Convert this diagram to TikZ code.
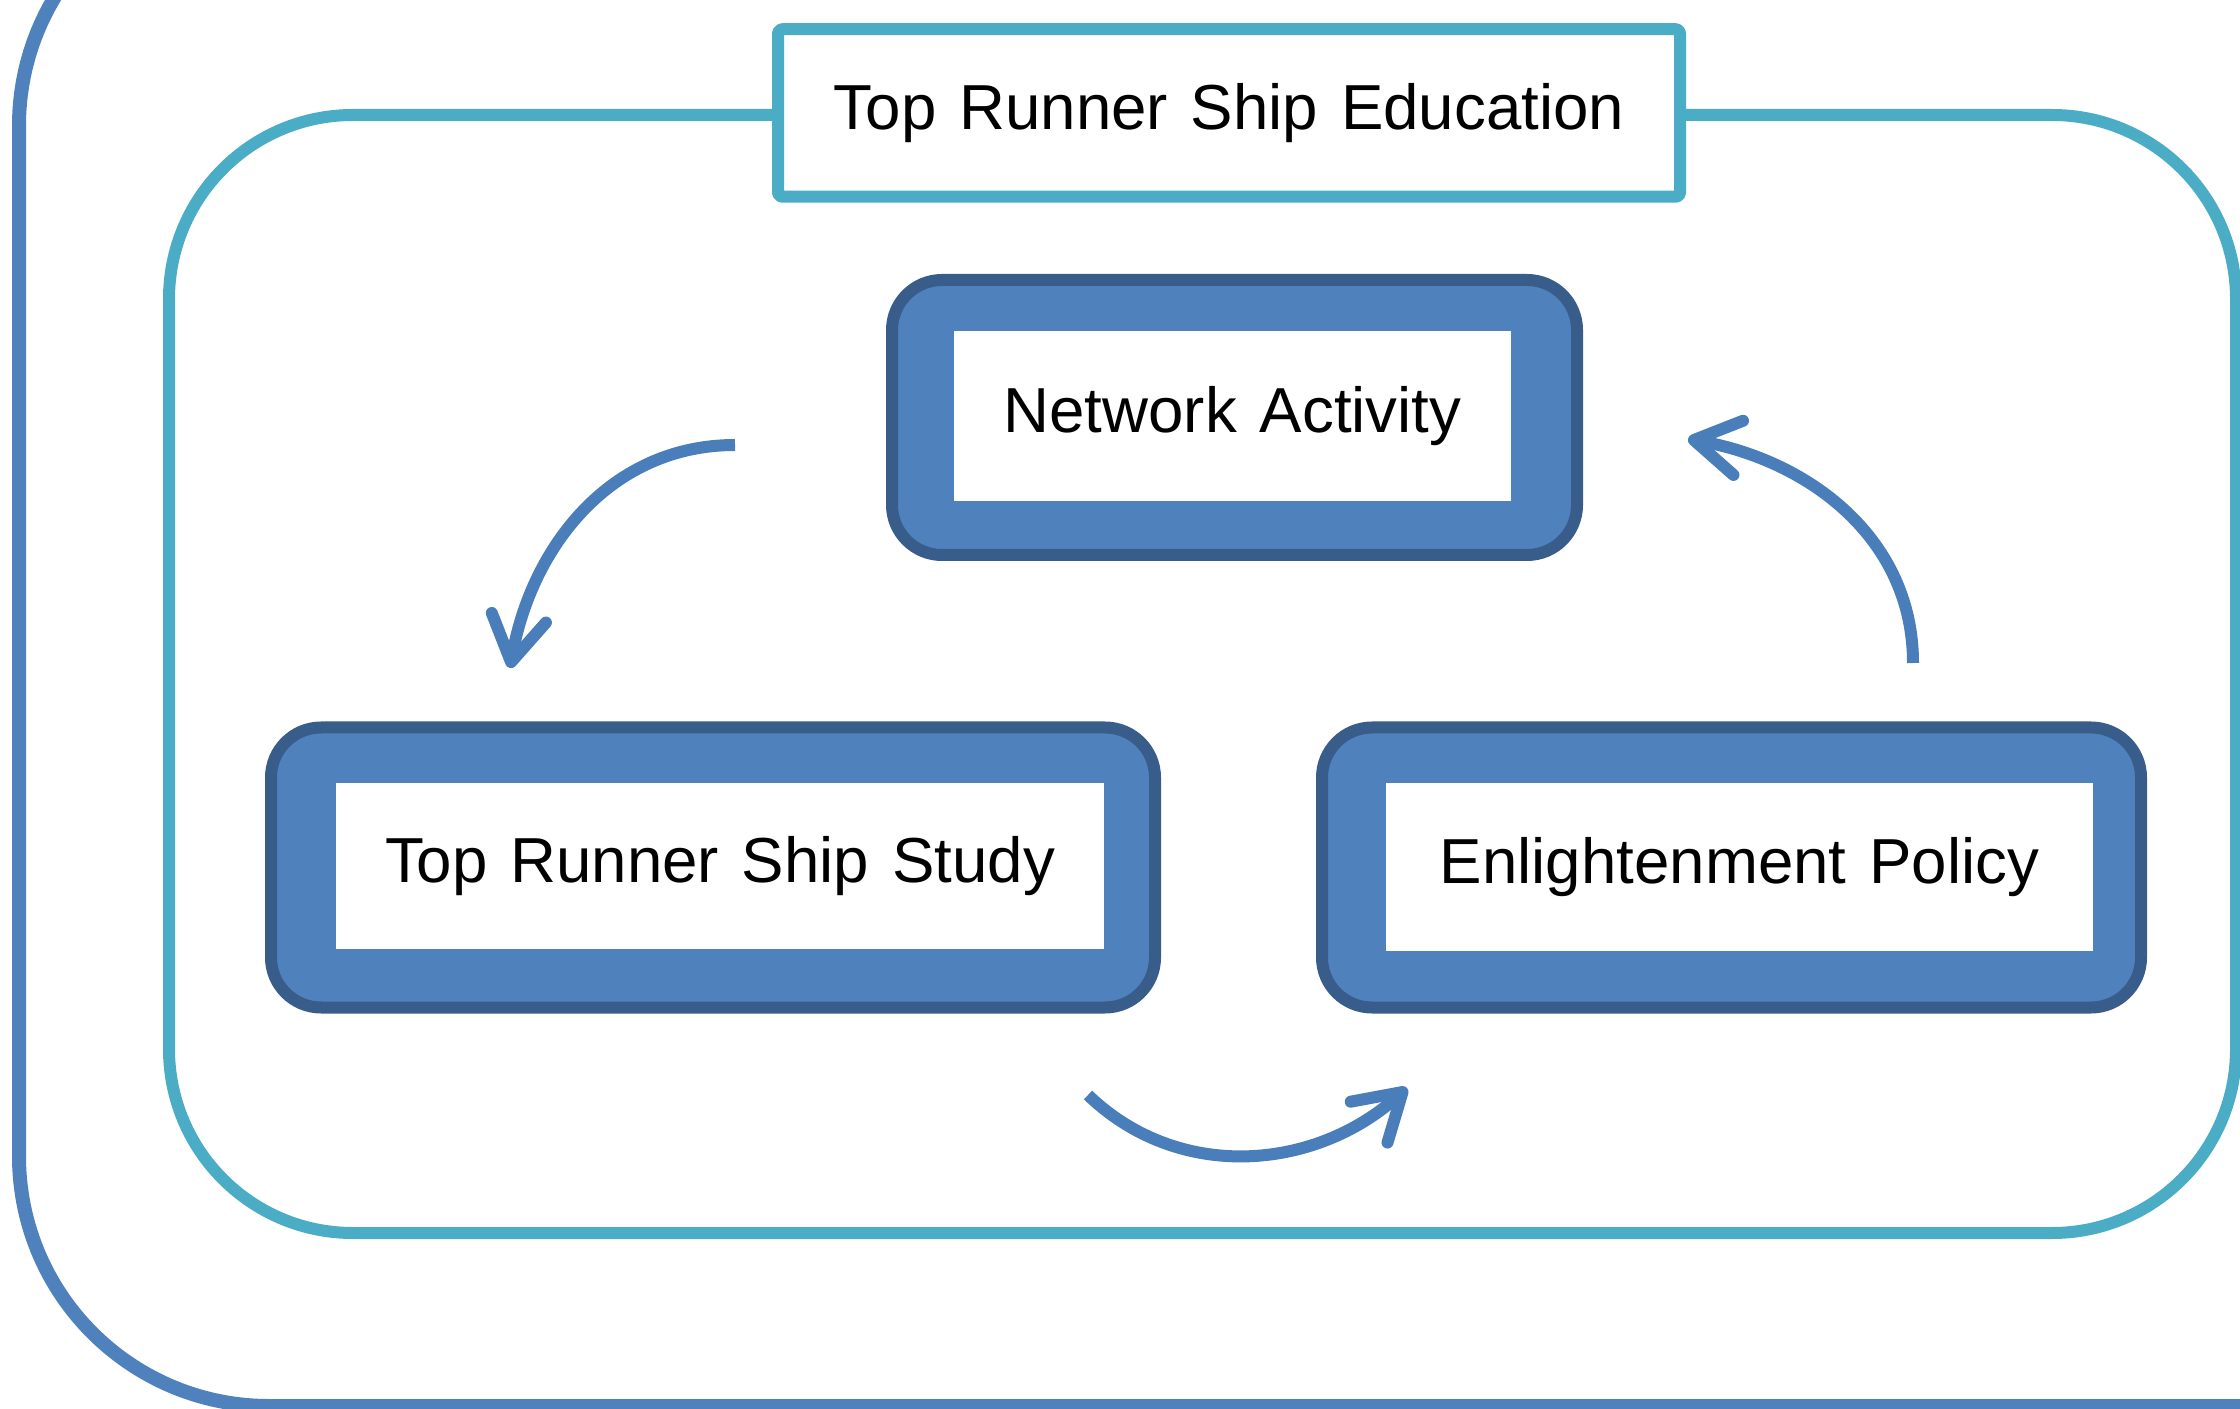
\documentclass[tikz,border=0pt]{standalone}
\usepackage{fontspec}
\setmainfont{Liberation Sans}
\usepackage{xcolor}
\usetikzlibrary{positioning,calc,arrows.meta}
\definecolor{frameblue}{HTML}{4F81BD}
\definecolor{framecyan}{HTML}{4BACC6}
\definecolor{panelblue}{HTML}{4F81BD}
\definecolor{paneledge}{HTML}{385D8A}
\definecolor{arrowblue}{HTML}{4A7EBB}
\newcommand{\wordfont}{\fontsize{18.1}{21}\selectfont\spaceskip=0.36em\relax}

\begin{document}
\begin{tikzpicture}[line join=round]
	\useasboundingbox (0,0) rectangle (22.4,14.08);
	\tikzset{
		panel/.style={draw=paneledge, fill=panelblue, line width=0.12cm,
			rounded corners=0.5cm, inner sep=0pt},
		card/.style={fill=white, inner sep=0pt, font=\wordfont},
		title/.style={draw=framecyan, fill=white, line width=0.12cm,
			rounded corners=0.04cm, inner sep=0pt, font=\wordfont},
		flow/.style={arrowblue, line width=0.12cm,
			-{Straight Barb[length=0.45cm, width=0.55cm, round]}}
	}
	
	% ---- khung ngoai (bi cat o mep) ----
	\begin{scope}
		\clip (0,0) rectangle (22.4,14.08);
		\draw[frameblue, line width=0.14cm, rounded corners=2.5cm]
			(0.19,0.02) rectangle (26,15.32);
	\end{scope}
	
	% ---- khung trong ----
	\draw[framecyan, line width=0.12cm, rounded corners=1.84cm]
		(1.69,1.75) rectangle (22.36,12.93);
	
	% ---- toa do cac o ----
	\coordinate (T) at (12.29,12.95);
	\coordinate (N) at (12.345,9.905);
	\coordinate (S) at (7.13,5.405);
	\coordinate (P) at (17.315,5.405);
	
	% ---- tieu de ----
	\node[title, minimum width=9.02cm, minimum height=1.675cm] (edu) at (T)
		{Top Runner Ship Education};
	
	% ---- ba o chinh ----
	\node[panel, minimum width=6.85cm, minimum height=2.75cm] (net) at (N) {};
	\node[card, minimum width=5.57cm, minimum height=1.70cm] (netT)
		at ($(N)+(-0.02,0.015)$) {Network Activity};
	
	\node[panel, minimum width=8.84cm, minimum height=2.80cm] (study) at (S) {};
	\node[card, minimum width=7.68cm, minimum height=1.66cm] (studyT)
		at ($(S)+(0.07,0.015)$) {Top Runner Ship Study};
	
	\node[panel, minimum width=8.19cm, minimum height=2.80cm] (policy) at (P) {};
	\node[card, minimum width=7.07cm, minimum height=1.68cm] (policyT)
		at ($(P)+(0.08,0.005)$) {Enlightenment Policy};
	
	% ---- mui ten vong ----
	\coordinate (a1s) at (7.35,9.63);
	\coordinate (a1e) at (5.10,7.40);
	\coordinate (a2s) at (19.13,7.45);
	\coordinate (a2e) at (16.88,9.69);
	\coordinate (a3s) at (10.88,3.13);
	\coordinate (a3e) at (14.07,3.20);
	
	\draw[flow] (a1s) to[out=180, in=80] (a1e);
	\draw[flow] (a2s) to[out=90, in=-10] (a2e);
	\draw[flow] (a3s) to[out=-44, in=222] (a3e);
\end{tikzpicture}
\end{document}
